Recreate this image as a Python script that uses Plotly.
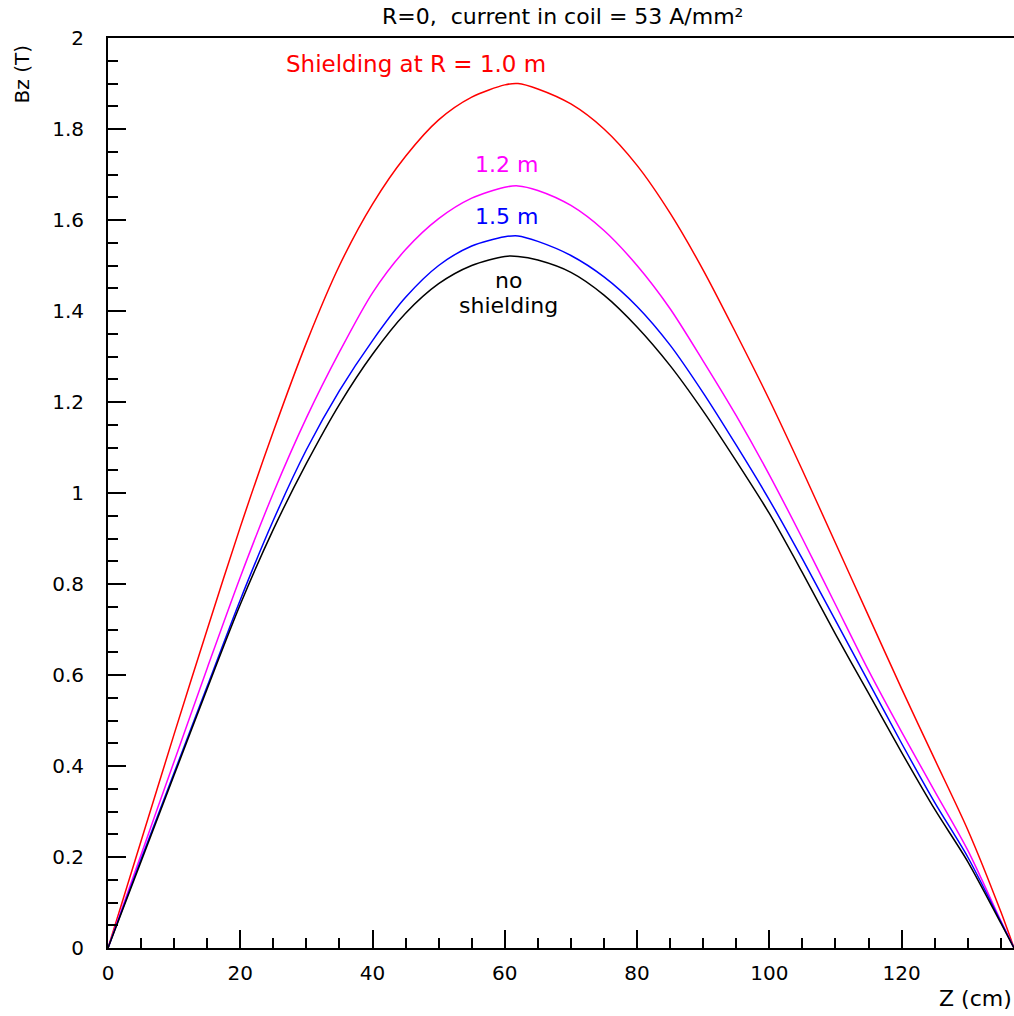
import plotly.graph_objects as go

z = [0, 5, 10, 15, 20, 25, 30, 35, 40, 45, 50, 55, 60, 62, 65, 70, 75, 80, 85,
     90, 95, 100, 105, 110, 115, 120, 125, 130, 135, 137]

bz_r10 = [0, 0.235, 0.47, 0.70, 0.925, 1.135, 1.33, 1.50, 1.635, 1.74, 1.82, 1.87,
          1.897, 1.90, 1.888, 1.855, 1.80, 1.72, 1.615, 1.49, 1.35, 1.205, 1.05,
          0.89, 0.73, 0.57, 0.415, 0.26, 0.08, 0.0]
bz_r12 = [0, 0.205, 0.41, 0.615, 0.815, 1.0, 1.165, 1.31, 1.44, 1.535, 1.603, 1.648,
          1.672, 1.675, 1.665, 1.632, 1.577, 1.50, 1.405, 1.29, 1.17, 1.04, 0.90,
          0.755, 0.61, 0.475, 0.345, 0.215, 0.06, 0.0]
bz_r15 = [0, 0.195, 0.385, 0.575, 0.765, 0.94, 1.095, 1.225, 1.335, 1.43, 1.50, 1.543,
          1.563, 1.565, 1.553, 1.522, 1.475, 1.41, 1.325, 1.22, 1.105, 0.985, 0.855,
          0.72, 0.585, 0.45, 0.32, 0.20, 0.058, 0.0]
bz_none = [0, 0.19, 0.38, 0.57, 0.755, 0.92, 1.065, 1.195, 1.305, 1.395, 1.46, 1.50,
           1.52, 1.52, 1.512, 1.485, 1.435, 1.365, 1.28, 1.18, 1.07, 0.955, 0.825,
           0.69, 0.56, 0.43, 0.305, 0.19, 0.055, 0.0]

series = [
    ("Shielding at R = 1.0 m", bz_r10, "#ff0000"),
    ("1.2 m", bz_r12, "#ff00ff"),
    ("1.5 m", bz_r15, "#0000ff"),
    ("no shielding", bz_none, "#000000"),
]

labels = [
    ("Shielding at R = 1.0 m", 46.6, 1.943, "#ff0000"),
    ("1.2 m", 60.2, 1.721, "#ff00ff"),
    ("1.5 m", 60.2, 1.607, "#0000ff"),
    ("no", 60.6, 1.466, "#000000"),
    ("shielding", 60.6, 1.413, "#000000"),
]

x_ticks = [0, 20, 40, 60, 80, 100, 120]
y_ticks = [0, 0.2, 0.4, 0.6, 0.8, 1.0, 1.2, 1.4, 1.6, 1.8, 2.0]
y_ticktext = ["0", "0.2", "0.4", "0.6", "0.8", "1", "1.2", "1.4", "1.6", "1.8", "2"]

FONT = "DejaVu Sans"

fig = go.Figure()
for name, ys, col in series:
    fig.add_trace(go.Scatter(x=z, y=ys, mode="lines", name=name,
                             line=dict(color=col, width=1.5, shape="spline", smoothing=0.8)))

for txt, xx, yy, col in labels:
    fig.add_annotation(x=xx, y=yy, text=txt, showarrow=False,
                       font=dict(family=FONT, size=23 if txt.startswith("Sh") else 22, color=col),
                       xanchor="center", yanchor="middle")

fig.add_annotation(xref="paper", yref="paper", x=0.502, y=1.024,
                   text="R=0,  current in coil = 53 A/mm²", showarrow=False,
                   font=dict(family=FONT, size=22, color="black"),
                   xanchor="center", yanchor="middle")
fig.add_annotation(xref="paper", yref="paper", x=-0.0949, y=0.96,
                   text="Bz (T)", showarrow=False, textangle=-90,
                   font=dict(family=FONT, size=20, color="black"),
                   xanchor="center", yanchor="middle")
fig.add_annotation(xref="paper", yref="paper", x=1.0, y=-0.055,
                   text="Z (cm)", showarrow=False,
                   font=dict(family=FONT, size=22, color="black"),
                   xanchor="right", yanchor="middle")

fig.update_layout(
    width=1014, height=1016,
    margin=dict(l=108, r=0, t=38, b=68),
    plot_bgcolor="white", paper_bgcolor="white",
    showlegend=False,
    xaxis=dict(range=[0, 137], tickvals=x_ticks, ticks="inside", ticklen=18,
               tickwidth=2, tickcolor="black", showline=True, linecolor="black",
               linewidth=2, mirror=True, showgrid=False, zeroline=False,
               tickfont=dict(family=FONT, size=20, color="black"),
               ticklabelstandoff=6,
               minor=dict(ticks="inside", ticklen=10, dtick=5, tick0=0,
                          tickwidth=2, tickcolor="black", showgrid=False)),
    yaxis=dict(range=[0, 2], tickvals=y_ticks, ticktext=y_ticktext,
               ticks="inside", ticklen=18, tickwidth=2, tickcolor="black",
               showline=True, linecolor="black", linewidth=2, showgrid=False,
               zeroline=False,
               tickfont=dict(family=FONT, size=20, color="black"),
               ticklabelstandoff=18,
               minor=dict(ticks="inside", ticklen=10, dtick=0.05, tick0=0,
                          tickwidth=2, tickcolor="black", showgrid=False)),
)

fig.write_html("out.html")
